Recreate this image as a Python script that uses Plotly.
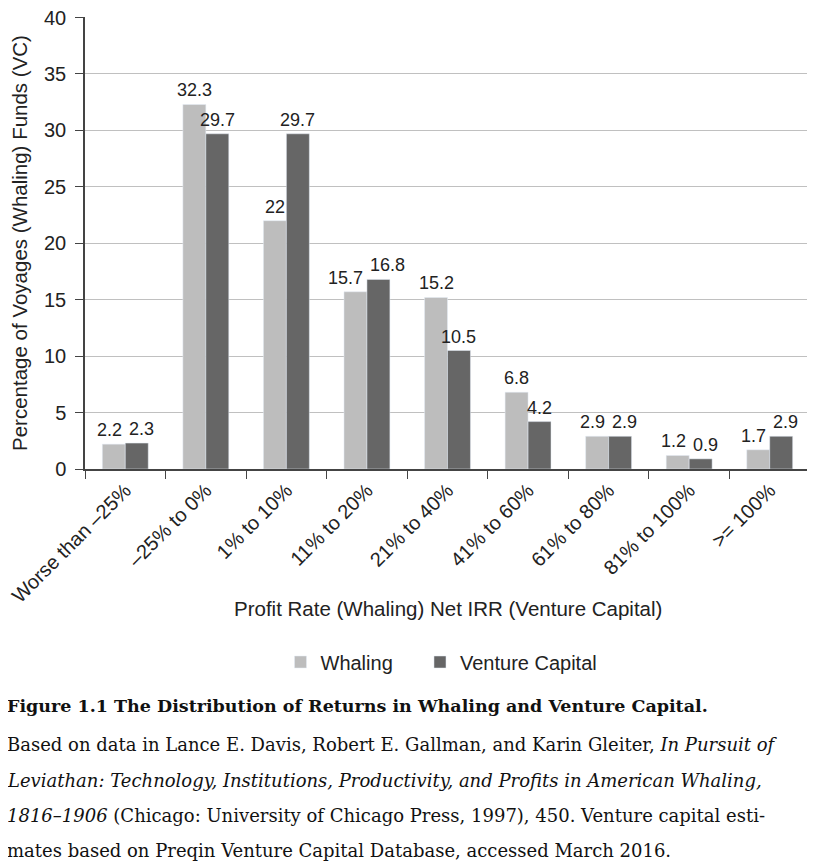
import plotly.graph_objects as go

categories = ["Worse than \u201325%", "\u201325% to 0%", "1% to 10%", "11% to 20%", "21% to 40%",
              "41% to 60%", "61% to 80%", "81% to 100%", ">= 100%"]
whaling = [2.2, 32.3, 22, 15.7, 15.2, 6.8, 2.9, 1.2, 1.7]
venture = [2.3, 29.7, 29.7, 16.8, 10.5, 4.2, 2.9, 0.9, 2.9]
y_ticks = [0, 5, 10, 15, 20, 25, 30, 35, 40]

SANS = "Liberation Sans, Arial, sans-serif"
SERIF = "DejaVu Serif, serif"
TXT = "#222222"
LABEL_SIZE = 18

# geometry (reference plot area spans x 85..810, y 17..469; page body adds 8px offset)
L, R, T, B = 77, 5, 9, 399
W, H = 807, 860
Y_MAX = 40.05
BARGAP = 0.43
plot_w = W - L - R
plot_h = H - T - B
cat_w = plot_w / len(categories)
bar_w = cat_w * (1 - BARGAP) / 2
px_per_unit = plot_h / Y_MAX

fig = go.Figure()
fig.add_trace(go.Bar(name="Whaling\u00a0\u00a0\u00a0\u00a0", x=categories, y=whaling, marker_color="#bdbdbd"))
fig.add_trace(go.Bar(name="Venture Capital", x=categories, y=venture, marker_color="#666666"))

def text_w(s):
    return sum((0.278 if c == "." else 0.556) for c in s) * LABEL_SIZE

# value labels, pushed apart when the pair would collide
for cat, a, b in zip(categories, whaling, venture):
    ta, tb = f"{a:g}", f"{b:g}"
    if abs(a - b) * px_per_unit < LABEL_SIZE * 1.1:
        need = (text_w(ta) + text_w(tb)) / 2 + 7
        push = max(0.0, (need - bar_w) / 2)
    else:
        push = 0.0
    for val, txt, side in ((a, ta, -1), (b, tb, 1)):
        fig.add_annotation(x=cat, y=val, xref="x", yref="y", text=txt, showarrow=False,
                           xanchor="center", yanchor="bottom",
                           xshift=side * (bar_w / 2 + push), yshift=2,
                           font=dict(family=SANS, size=LABEL_SIZE, color=TXT))

fig.update_layout(
    width=W, height=H,
    margin=dict(l=L, r=R, t=T, b=B, autoexpand=False),
    paper_bgcolor="white", plot_bgcolor="white",
    barmode="group", bargap=BARGAP, bargroupgap=0,
    font=dict(family=SANS, color=TXT, size=17),
    showlegend=True,
    legend=dict(orientation="h", x=0.5 - 6 / plot_w, xanchor="center", y=-0.427, yanchor="middle",
                font=dict(family=SANS, size=20, color=TXT), itemwidth=30,
                traceorder="normal"),
    xaxis=dict(tickangle=-45, tickson="boundaries", ticks="outside", ticklen=8, automargin=False,
               tickcolor="#444", showline=True, linecolor="#444", linewidth=1.5,
               tickfont=dict(family=SANS, size=20, color=TXT), showgrid=False),
    yaxis=dict(range=[0, Y_MAX], tickvals=y_ticks, ticks="outside", ticklen=8, tickcolor="#444",
               showline=True, linecolor="#444", linewidth=1.5, ticklabeloverflow="allow",
               ticklabelstandoff=5, automargin=False,
               showgrid=True, gridcolor="#c0c0c0", gridwidth=1.2,
               tickfont=dict(family=SANS, size=20, color=TXT), zeroline=False,
               title=dict(text="Percentage of Voyages (Whaling) Funds (VC)",
                          font=dict(family=SANS, size=20.5, color=TXT), standoff=20)),
)

def py(pix):
    return (469 - pix) / 452.0

fig.add_annotation(text="Profit Rate (Whaling) Net IRR (Venture Capital)", xref="paper", yref="paper",
                   x=0.5, y=py(608), xanchor="center", yanchor="middle", showarrow=False,
                   font=dict(family=SANS, size=20.5, color=TXT))

cap_x = (5 - 85) / 725.0
fig.add_annotation(text="<b>Figure 1.1 The Distribution of Returns in Whaling and Venture Capital.</b>",
                   xref="paper", yref="paper", x=cap_x, y=py(706), xanchor="left", yanchor="middle",
                   showarrow=False, font=dict(family=SERIF, size=17.5, color="#111"))
lines = [
    "Based on data in Lance E. Davis, Robert E. Gallman, and Karin Gleiter, <i>In Pursuit of</i>",
    "<i>Leviathan: Technology, Institutions, Productivity, and Profits in American Whaling,</i>",
    "<i>1816\u20131906</i> (Chicago: University of Chicago Press, 1997), 450. Venture capital esti-",
    "mates based on Preqin Venture Capital Database, accessed March 2016.",
]
for line, ypix in zip(lines, [745, 780, 815, 850]):
    fig.add_annotation(text=line, xref="paper", yref="paper", x=cap_x, y=py(ypix),
                       xanchor="left", yanchor="middle", showarrow=False,
                       font=dict(family=SERIF, size=18, color="#111"))

fig.write_html("out.html")
